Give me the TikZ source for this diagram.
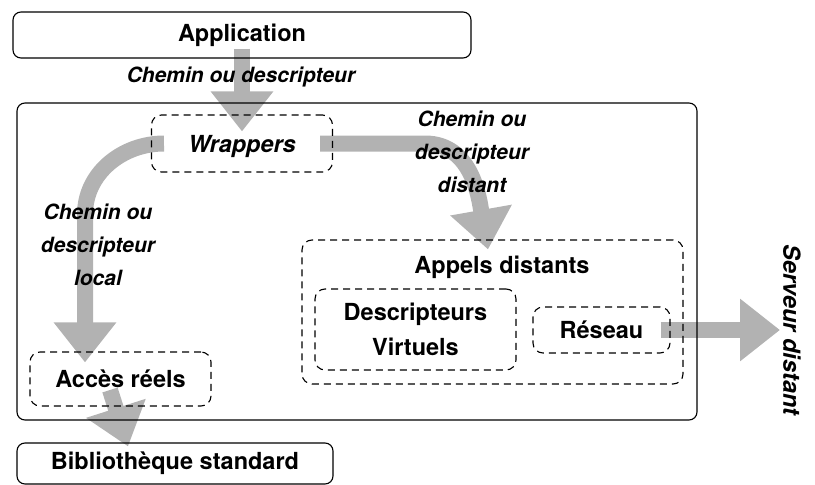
\documentclass[tikz,border=0pt]{standalone}
\usepackage{fontspec}
\setmainfont{TeX Gyre Heros}
\usetikzlibrary{arrows.meta,backgrounds}

\begin{document}
\begin{tikzpicture}[x=1pt, y=-1pt,
  bloc/.style={draw, rounded corners=8pt, line width=1.1pt, inner sep=0pt,
    font=\fontsize{23.5}{28}\selectfont\bfseries},
  module/.style={draw, dash pattern=on 7pt off 5pt, rounded corners=10pt, line width=1.1pt,
    inner sep=0pt, font=\fontsize{23.5}{35}\selectfont\bfseries},
  texte/.style={font=\fontsize{23.5}{28}\selectfont\bfseries},
  chemin/.style={font=\fontsize{21}{33}\selectfont\bfseries\itshape, align=center},
  flux/.style={draw=black!30, line width=16pt, -{Triangle[width=60pt,length=40pt]}}]
\useasboundingbox (0,0) rectangle (815,485);

\node[bloc, minimum width=458pt, minimum height=46pt] (Application) at (242,35) {Application};
\node[bloc, minimum width=680pt, minimum height=317pt] (Client) at (357,261.5) {};
  \node[module, minimum width=181pt, minimum height=57pt, text depth=0pt,
    font=\fontsize{23.5}{28}\selectfont\bfseries\itshape] (Wrappers) at (242,143.5) {Wrappers};
  \node[module, minimum width=181pt, minimum height=54pt] (Acces) at (120.5,379) {Accès réels};
  \node[module, minimum width=381pt, minimum height=144pt] (Appels) at (492.5,312) {};
    \node[texte] (AppelsTitre) at (502,267) {Appels distants};
    \node[module, minimum width=201pt, minimum height=81pt, align=center] (Descr) at (415.5,329.5) {Descripteurs\\Virtuels};
    \node[module, minimum width=137pt, minimum height=46pt] (Reseau) at (601.5,330) {Réseau};
\node[bloc, minimum width=316pt, minimum height=41pt] (Biblio) at (175,463.5) {Bibliothèque standard};
\node[texte, font=\fontsize{23.5}{28}\selectfont\bfseries\itshape, rotate=-90] (Serveur) at (792,330) {Serveur distant};

\node[chemin] (LabelApp) at (241,77) {Chemin ou descripteur};
\node[chemin] (LabelLocal) at (98,245) {Chemin ou\\descripteur\\local};
\node[chemin] (LabelDistant) at (472,152) {Chemin ou\\descripteur\\distant};

\begin{pgfonlayer}{background}
\draw[flux] ([yshift=10pt]Application.south) -- ([yshift=-17pt]Wrappers.north);
\draw[flux] ([xshift=13pt]Wrappers.west) to[out=180,in=90] ([xshift=-35.5pt,yshift=137pt]Acces.north)
  -- ([xshift=-35.5pt,yshift=-11pt]Acces.north);
\draw[flux] ([xshift=-13pt]Wrappers.east) -- ++(105,0) to[out=0,in=100] ([xshift=-4.5pt,yshift=-10pt]Appels.north);
\draw[flux] ([xshift=-10.5pt,yshift=-11pt]Acces.center) -- ([xshift=-47pt,yshift=-4pt]Biblio.north);
\draw[flux] ([xshift=-10pt]Reseau.east) -- ([xshift=-12pt]Serveur.center);
\end{pgfonlayer}
\end{tikzpicture}
\end{document}
